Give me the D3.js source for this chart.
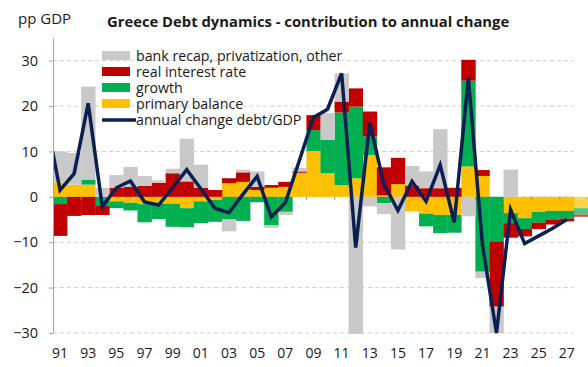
<!DOCTYPE html>
<html lang="en">
<head>
<meta charset="UTF-8">
<title>Greece Debt dynamics</title>
<script src="https://cdn.jsdelivr.net/npm/d3@7"></script>
<style>
    body { margin: 0; background: #fff; }
    svg text { font-family: "Open Sans", sans-serif; fill: #1a1a1a; }
</style>
</head>
<body>
<svg id="chart" width="588" height="367"></svg>
<script>
    // bar years
    const years = [1991, 1992, 1993, 1994, 1995, 1996, 1997, 1998, 1999, 2000,
        2001, 2002, 2003, 2004, 2005, 2006, 2007, 2008, 2009, 2010,
        2011, 2012, 2013, 2014, 2015, 2016, 2017, 2018, 2019, 2020,
        2021, 2022, 2023, 2024, 2025, 2026, 2027, 2028]

    // contributions, pp of GDP
    const primaryBalance = [3.2, 2.7, 2.7, 0, -1.0, -1.3, -1.6, -1.5, -1.5, -2.5,
        -1.0, -0.7, 3.0, 3.3, 1.5, 2.0, 2.2, 5.3, 10.1, 5.2,
        2.6, 4.1, 9.2, 0.3, 2.8, -3.2, -3.7, -4.0, -4.0, 6.7,
        4.6, 0, -3.6, -4.7, -3.3, -3.1, -3.1, -2.5]
    const growth = [-1.6, 0, 1.1, -2.0, -1.5, -1.7, -4.0, -3.4, -5.1, -4.2,
        -4.8, -4.8, -5.0, -5.3, -1.2, -6.3, -3.3, 0, 4.6, 7.4,
        16.0, 15.8, 4.1, -1.4, 0, 0, -2.8, -4.0, -3.9, 18.9,
        -16.5, -9.8, -2.2, -2.4, -2.4, -2.0, -1.7, -1.4]
    const realInterest = [-7.0, -4.2, -4.0, -2.0, 2.0, 2.2, 2.4, 3.1, 5.2, 3.4,
        2.0, 1.5, 1.1, 2.1, 0.7, 0.6, 1.1, 0.3, 3.3, 0,
        2.4, 4.0, 5.5, 6.2, 5.8, 2.5, 1.9, 1.9, 2.0, 4.6,
        1.3, -14.4, -3.2, -1.6, -1.4, -1.0, -0.6, -0.5]
    const bankRecap = [6.8, 7.0, 20.5, 2.0, 2.8, 4.4, 2.2, 0.5, 1.0, 9.4,
        5.1, 0, -2.6, 0.6, 3.4, -0.5, -0.7, 0.8, 0, 5.9,
        6.2, -30.2, -2.1, -2.4, -11.6, 4.3, 3.7, 13.0, 0, -4.3,
        -1.4, -5.8, 6.0, 0, 0, 0, 0, 0]

    // annual change in debt/GDP
    const lineYears = [1990, 1991, 1992, 1993, 1994, 1995, 1996, 1997, 1998, 1999,
        2000, 2001, 2002, 2003, 2004, 2005, 2006, 2007, 2008, 2009,
        2010, 2011, 2012, 2013, 2014, 2015, 2016, 2017, 2018, 2019,
        2020, 2021, 2022, 2023, 2024, 2025, 2026, 2027]
    const debtChange = [17.5, 1.5, 5.1, 20.6, -2.2, 2.0, 3.5, -1.1, -1.8, 2.0,
        6.0, 1.8, -2.5, -3.5, 0.6, 4.5, -4.4, -1.3, 8.0, 17.5,
        19.3, 27.2, -11.2, 16.3, 2.8, -3.0, 3.4, -1.0, 7.0, -5.6,
        26.2, -10.5, -30.0, -2.8, -10.3, -8.6, -6.9, -5.0]

    const xLabels = ["91", "93", "95", "97", "99", "01", "03", "05", "07", "09",
        "11", "13", "15", "17", "19", "21", "23", "25", "27"]
    const yTicks = [-30, -20, -10, 0, 10, 20, 30]

    const keys = ["primary", "growth", "interest", "other"]
    const colors = { primary: "#ffc000", growth: "#00b050", interest: "#c00000", other: "#c9c9c9" }
    const legendItems = [
        { key: "other", label: "bank recap, privatization, other" },
        { key: "interest", label: "real interest rate" },
        { key: "growth", label: "growth" },
        { key: "primary", label: "primary balance" },
        { key: "line", label: "annual change debt/GDP" }
    ]

    const rows = years.map((yr, i) => ({
        year: yr,
        primary: primaryBalance[i],
        growth: growth[i],
        interest: realInterest[i],
        other: bankRecap[i]
    }))

    const svg = d3.select("#chart")
    const plotLeft = 53, plotRight = 588, plotTop = 38, plotBottom = 333, gridEnd = 574

    // year centres sit in the middle of each band
    const x = d3.scaleLinear().domain([1990.5, 2028.5]).range([plotLeft, plotRight])
    const y = d3.scaleLinear().domain([-30, 35]).range([plotBottom, plotTop])

    // gridlines
    svg.append("g")
        .selectAll("line")
        .data(yTicks)
        .join("line")
        .attr("x1", plotLeft).attr("x2", gridEnd)
        .attr("y1", d => y(d)).attr("y2", d => y(d))
        .attr("stroke", "#cfcfcf")
        .attr("stroke-dasharray", "4,3")

    // stacked bars, negatives stack downwards
    const series = d3.stack().keys(keys).offset(d3.stackOffsetDiverging)(rows)

    svg.append("g")
        .selectAll("g")
        .data(series)
        .join("g")
        .attr("fill", d => colors[d.key])
        .selectAll("rect")
        .data(d => d)
        .join("rect")
        .attr("x", d => x(d.data.year - 0.5))
        .attr("width", d => x(d.data.year + 0.5) - x(d.data.year - 0.5) + 0.3)
        .attr("y", d => y(Math.max(d[0], d[1])))
        .attr("height", d => Math.abs(y(d[0]) - y(d[1])))
        .attr("opacity", d => d.data.year === 2028 ? 0.7 : 1)

    // small category ticks on the zero line, every two years
    svg.append("g")
        .selectAll("line")
        .data(xLabels)
        .join("line")
        .attr("x1", (d, i) => x(1991 + i * 2 + 1.5))
        .attr("x2", (d, i) => x(1991 + i * 2 + 1.5))
        .attr("y1", y(0)).attr("y2", y(0) + 3)
        .attr("stroke", "#999")

    // debt change line, clipped at the y axis
    svg.append("clipPath").attr("id", "plotClip")
        .append("rect").attr("x", plotLeft).attr("y", 0).attr("width", plotRight - plotLeft).attr("height", 350)

    const line = d3.line()
        .x((d, i) => x(lineYears[i]))
        .y(d => y(d))

    svg.append("path")
        .datum(debtChange)
        .attr("clip-path", "url(#plotClip)")
        .attr("fill", "none")
        .attr("stroke", "#0c1f52")
        .attr("stroke-width", 3.5)
        .attr("stroke-linejoin", "miter")
        .attr("d", line)

    // y axis
    const yAxis = svg.append("g")
        .attr("transform", `translate(${plotLeft},0)`)
        .call(d3.axisLeft(y).tickValues(yTicks).tickSize(4).tickPadding(11).tickSizeOuter(0))
    yAxis.select(".domain").attr("stroke", "#a6a6a6")
    yAxis.selectAll(".tick line").attr("stroke", "#a6a6a6")
    yAxis.selectAll("text").attr("font-size", 14.5).style("font-family", "Open Sans").attr("fill", "#1a1a1a")

    // x labels
    svg.append("g")
        .selectAll("text")
        .data(xLabels)
        .join("text")
        .attr("x", (d, i) => x(1991 + i * 2))
        .attr("y", 358)
        .attr("text-anchor", "middle")
        .attr("font-size", 14)
        .text(d => d)

    // titles
    svg.append("text").attr("x", 18).attr("y", 24).attr("font-size", 15).text("pp GDP")
    svg.append("text").attr("x", 107).attr("y", 27).attr("font-size", 14.8)
        .attr("font-weight", "bold").text("Greece Debt dynamics - contribution to annual change")

    // legend
    const legend = svg.append("g")
        .selectAll("g")
        .data(legendItems)
        .join("g")
        .attr("transform", (d, i) => `translate(102,${61 + i * 16})`)

    legend.filter(d => d.key !== "line")
        .append("rect")
        .attr("x", 0).attr("y", -10).attr("width", 28).attr("height", 9)
        .attr("fill", d => colors[d.key])
    legend.filter(d => d.key === "line")
        .append("line")
        .attr("x1", 0).attr("x2", 34).attr("y1", -5).attr("y2", -5)
        .attr("stroke", "#0c1f52").attr("stroke-width", 3.5)
    legend.append("text")
        .attr("x", 34).attr("y", 0)
        .attr("font-size", 14.2)
        .text(d => d.label)
</script>
</body>
</html>
